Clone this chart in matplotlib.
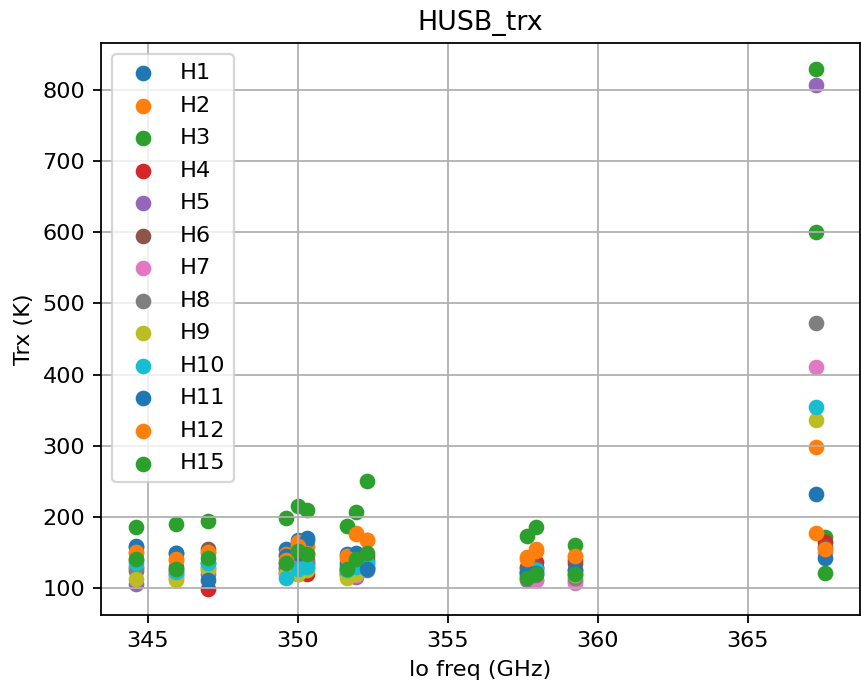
import numpy as np
import matplotlib
matplotlib.use("Agg")
import matplotlib.pyplot as plt

nan = np.nan

# LO frequencies (GHz)
lo_freq = [344.60, 345.95, 347.00, 349.62, 350.00, 350.30, 351.63,
           351.93, 352.30, 357.63, 357.93, 359.23, 367.25, 367.58]

# Receiver temperature (K) per mixer
H1 = [158, 150, 135, 155, 168, 170, 148, 150, 130, 123, 128, 125, 233, nan]
H2 = [150, 140, 150, 148, 165, 160, 145, 178, 168, 144, 155, 146, 299, nan]
H3 = [186, 190, 194, 199, 216, 210, 188, 207, 251, 173, 186, 161, 829, 172]
H4 = [130, 120, 99, 122, 120, 120, 125, 135, 140, 130, 137, 135, nan, 165]
H5 = [106, 115, 120, 130, 125, 130, 120, 116, 125, 112, 111, 110, 806, nan]
H6 = [140, 130, 155, 135, 140, 140, 130, 140, 145, 128, 130, 140, nan, 158]
H7 = [127, 118, 125, 125, 130, 135, 118, 118, 130, 115, 112, 107, 410, 150]
H8 = [124, 125, 130, 128, 128, 135, 122, 125, 135, 118, 118, 115, 473, nan]
H9 = [113, 111, 127, 120, 120, 125, 115, 120, 128, 120, 125, 118, 336, nan]
H10 = [135, 123, 135, 115, 127, 130, 125, 130, 135, 122, 125, 120, 355, nan]
H11 = [160, 150, 112, 145, 150, 168, 135, 148, 127, 123, 122, 125, nan, 142]
H12 = [151, 141, 151, 140, 160, 150, 143, 176, 168, 141, 152, 146, 178, 155]
H15 = [141, 127, 142, 136, 152, 148, 127, 141, 150, 115, 120, 120, 600, 121]

labels = ["H1", "H2", "H3", "H4", "H5", "H6", "H7", "H8", "H9", "H10",
          "H11", "H12", "H15"]
series = [H1, H2, H3, H4, H5, H6, H7, H8, H9, H10, H11, H12, H15]

DPI = 161
fig = plt.figure(figsize=(861 / DPI, 681 / DPI), dpi=DPI)
ax = fig.add_axes([101 / 861, (681 - 615) / 681, 759 / 861, 572 / 681])

for lab, vals in zip(labels, series):
    ax.scatter(lo_freq, vals, label=lab)

ax.set_title("HUSB_trx")
ax.set_xlabel("lo freq (GHz)")
ax.set_ylabel("Trx (K)")
ax.grid(True)
ax.legend(loc="upper left", labelspacing=0.56, handletextpad=0.6)

fig.savefig("out.png", dpi=DPI)
